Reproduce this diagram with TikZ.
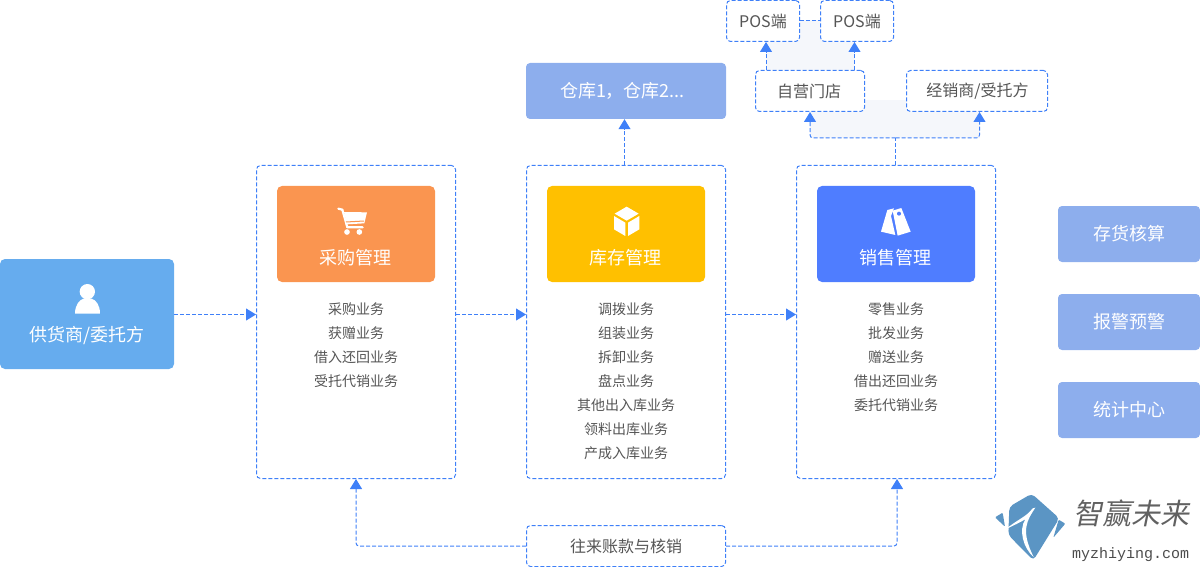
\documentclass[tikz,border=0pt]{standalone}
\usepackage{fontspec}
\setmainfont{Noto Sans CJK SC}
\newfontfamily\logofont[FakeSlant=0.2]{Noto Sans CJK SC}
\newfontfamily\urlfont{Liberation Mono}
\usetikzlibrary{arrows.meta,calc}
\definecolor{dashblue}{HTML}{3F80F8}
\definecolor{softblue}{HTML}{8DAEED}
\definecolor{skyblue}{HTML}{66ACEE}
\definecolor{paleback}{HTML}{F5F7FB}
\definecolor{cardorange}{HTML}{FA9550}
\definecolor{cardyellow}{HTML}{FFC000}
\definecolor{cardblue}{HTML}{4F7DFF}
\definecolor{logoblue}{HTML}{5B95C4}
\definecolor{bodygrey}{HTML}{555555}
\tikzset{
  dashline/.style={draw=dashblue,line width=1pt,dash pattern=on 4pt off 2pt},
  flow/.style={dashline,-{Triangle[length=10pt,width=12pt]},rounded corners=3pt},
  plainflow/.style={dashline,rounded corners=3pt},
  dashbox/.style={dashline,rounded corners=4pt,inner sep=0pt,text=bodygrey,font=\fontsize{16}{18}\selectfont,fill=white},
  panel/.style={dashline,rounded corners=4pt,minimum width=199pt,minimum height=313pt,inner sep=0pt},
  softbox/.style={fill=softblue,rounded corners=4pt,inner sep=0pt,text=white,font=\fontsize{18}{20}\selectfont},
  headbox/.style={rounded corners=5pt,minimum width=158pt,minimum height=96pt,inner sep=0pt},
  headtext/.style={text=white,inner sep=0pt,font=\fontsize{18}{20}\selectfont},
  item/.style={text=bodygrey,inner sep=0pt,font=\fontsize{14}{16}\selectfont},
  iconpart/.style={fill=white,draw=none}
}
\begin{document}
\begin{tikzpicture}[x=1pt,y=-1pt]
\useasboundingbox (0,0) rectangle (1200,567);
% pale backgrounds
\fill[paleback] (766,20) rectangle (855,72);
\fill[paleback] (810,100) rectangle (980,138);

% boxes
\node[fill=skyblue,rounded corners=5pt,minimum width=174pt,minimum height=110pt,inner sep=0pt] (supplier) at (87,314) {};
\node[panel] (buy) at (356,322) {};
\node[panel] (stock) at (626,322) {};
\node[panel] (sale) at (896,322) {};
\node[headbox,fill=cardorange] (buyhead) at (356,234) {};
\node[headbox,fill=cardyellow] (stockhead) at (626,234) {};
\node[headbox,fill=cardblue] (salehead) at (896,234) {};
\node[softbox,minimum width=200pt,minimum height=56pt] (ware) at (626,91) {\hspace{-7pt}\raisebox{-0.6pt}{仓库1，仓库2...}};
\node[softbox,minimum width=142pt,minimum height=56pt] (acct) at (1129,234) {\raisebox{-0.8pt}{存货核算}};
\node[softbox,minimum width=142pt,minimum height=56pt] (warn) at (1129,322) {\raisebox{-0.8pt}{报警预警}};
\node[softbox,minimum width=142pt,minimum height=56pt] (stats) at (1129,410) {\raisebox{-0.8pt}{统计中心}};
\node[dashbox,minimum width=73pt,minimum height=41pt] (posa) at (763,21) {POS端};
\node[dashbox,minimum width=73pt,minimum height=41pt] (posb) at (857,21) {POS端};
\node[dashbox,minimum width=109pt,minimum height=41pt] (shop) at (810,91) {\hspace{-2pt}自营门店};
\node[dashbox,minimum width=141pt,minimum height=41pt] (dealer) at (977,91) {\hspace{1pt}经销商/受托方};
\node[dashbox,minimum width=199pt,minimum height=41pt] (ledger) at (626,546) {往来账款与核销};

% head labels
\node[text=white,inner sep=0pt,font=\fontsize{18}{20}\selectfont] (suppliertext) at (87,335.5) {供货商/委托方};
\node[headtext] (buytext) at (355,257.5) {采购管理};
\node[headtext] (stocktext) at (625,257.5) {库存管理};
\node[headtext] (saletext) at (895,257.5) {销售管理};

% lists
\node[item] (b1) at (356,309) {采购业务};
\node[item] (b2) at (356,333) {获赠业务};
\node[item] (b3) at (356,357) {借入还回业务};
\node[item] (b4) at (356,381) {受托代销业务};
\node[item] (s1) at (626,309) {调拨业务};
\node[item] (s2) at (626,333) {组装业务};
\node[item] (s3) at (626,357) {拆卸业务};
\node[item] (s4) at (626,381) {盘点业务};
\node[item] (s5) at (626,405) {其他出入库业务};
\node[item] (s6) at (626,429) {领料出库业务};
\node[item] (s7) at (626,453) {产成入库业务};
\node[item] (m1) at (896,309) {零售业务};
\node[item] (m2) at (896,333) {批发业务};
\node[item] (m3) at (896,357) {赠送业务};
\node[item] (m4) at (896,381) {借出还回业务};
\node[item] (m5) at (896,405) {委托代销业务};

% connector anchors
\coordinate (flowy) at (0,314.5);
\coordinate (wareout) at ($(ware.south)+(-1.5,0)$);
\coordinate (shopleft) at ($(shop.north)+(-44,0)$);
\coordinate (shopright) at ($(shop.north)+(44.5,0)$);
\coordinate (posy) at (0,20.5);
\coordinate (salefork) at ($(sale.north)+(-0.5,-27)$);
\coordinate (dealerin) at ($(dealer.south)+(2.5,0)$);
\coordinate (salein) at ($(sale.south)+(1,0)$);

% connectors
\draw[flow] (supplier.east |- flowy) -- (buy.west |- flowy);
\draw[flow] (buy.east |- flowy) -- (stock.west |- flowy);
\draw[flow] (stock.east |- flowy) -- (sale.west |- flowy);
\draw[flow] (wareout |- stock.north) -- (wareout);
\draw[flow] (shopleft) -- (shopleft |- posa.south);
\draw[flow] (shopright) -- (shopright |- posb.south);
\draw[plainflow] (posa.east |- posy) -- (posb.west |- posy);
\draw[plainflow] (salefork |- sale.north) -- (salefork);
\draw[flow] (salefork) -- (shop.south |- salefork) -- (shop.south);
\draw[flow] (salefork) -- (dealerin |- salefork) -- (dealerin);
\draw[flow] (ledger.west) -- (buy.south |- ledger.west) -- (buy.south);
\draw[flow] (ledger.east) -- (salein |- ledger.east) -- (salein);

% person icon
\begin{scope}[shift={(0,250)},scale=1/3]
\fill[iconpart] (262,125) circle (23);
\fill[iconpart] (225,191) .. controls (225,165) and (238,150) .. (250,146) -- (275,146) .. controls (288,150) and (300,165) .. (300,191) -- cycle;
\end{scope}
% cart icon
\begin{scope}[shift={(270,180)},scale=1/3]
\draw[white,line width=2.2pt,line cap=round,line join=round] (205,86) -- (217,89) -- (232,142) -- (278,142);
\fill[iconpart] (222,96) -- (291,97) -- (283,130) -- (231,133) -- cycle;
\draw[cardorange,line width=1pt] (228,126) -- (282,123);
\fill[iconpart] (231,156) circle (8.5);
\fill[iconpart] (268,156) circle (8.5);
\end{scope}
% cube icon
\begin{scope}[shift={(540,180)},scale=1/3]
\fill[iconpart] (260,80) -- (296,101) -- (260,122) -- (224,101) -- cycle;
\fill[iconpart] (222,108) -- (256,128) -- (256,168) -- (222,148) -- cycle;
\fill[iconpart] (298,108) -- (264,128) -- (264,168) -- (298,148) -- cycle;
\end{scope}
% tag icon
\begin{scope}[shift={(810,180)},scale=1/3]
\fill[iconpart] (232,90) -- (252,85) -- (243,108) -- (256,165) -- (213,155) -- cycle;
\fill[iconpart] (248,92) -- (274,84) -- (302,155) -- (263,167) -- cycle;
\fill[cardblue] (267,101) circle (6);
\end{scope}

% logo
\begin{scope}[shift={(990,485)},scale=1/3]
\fill[logoblue,rounded corners=4pt] (125,26) -- (208,100) -- (130,226) -- (55,150) -- (58,65) -- cycle;
\fill[white] (48,132) .. controls (80,105) and (110,95) .. (128,70) -- (136,68) .. controls (112,105) and (90,135) .. (131,216) .. controls (100,190) and (85,135) .. (106,103) .. controls (90,112) and (70,122) .. (48,132) -- cycle;
\fill[logoblue,rounded corners=1pt] (15,97) -- (38,83) -- (45,125) -- cycle;
\fill[logoblue,rounded corners=1pt] (190,158) -- (206,104) -- (226,116) -- cycle;
\end{scope}
\node[text=black!62,inner sep=0pt,font=\logofont\fontsize{29}{32}\selectfont] (logotext) at (1131,513) {智赢未来};
\node[text=black!70,inner sep=0pt,font=\urlfont\fontsize{15}{17}\selectfont] (logourl) at (1130.5,555) {myzhiying.com};
\end{tikzpicture}
\end{document}
